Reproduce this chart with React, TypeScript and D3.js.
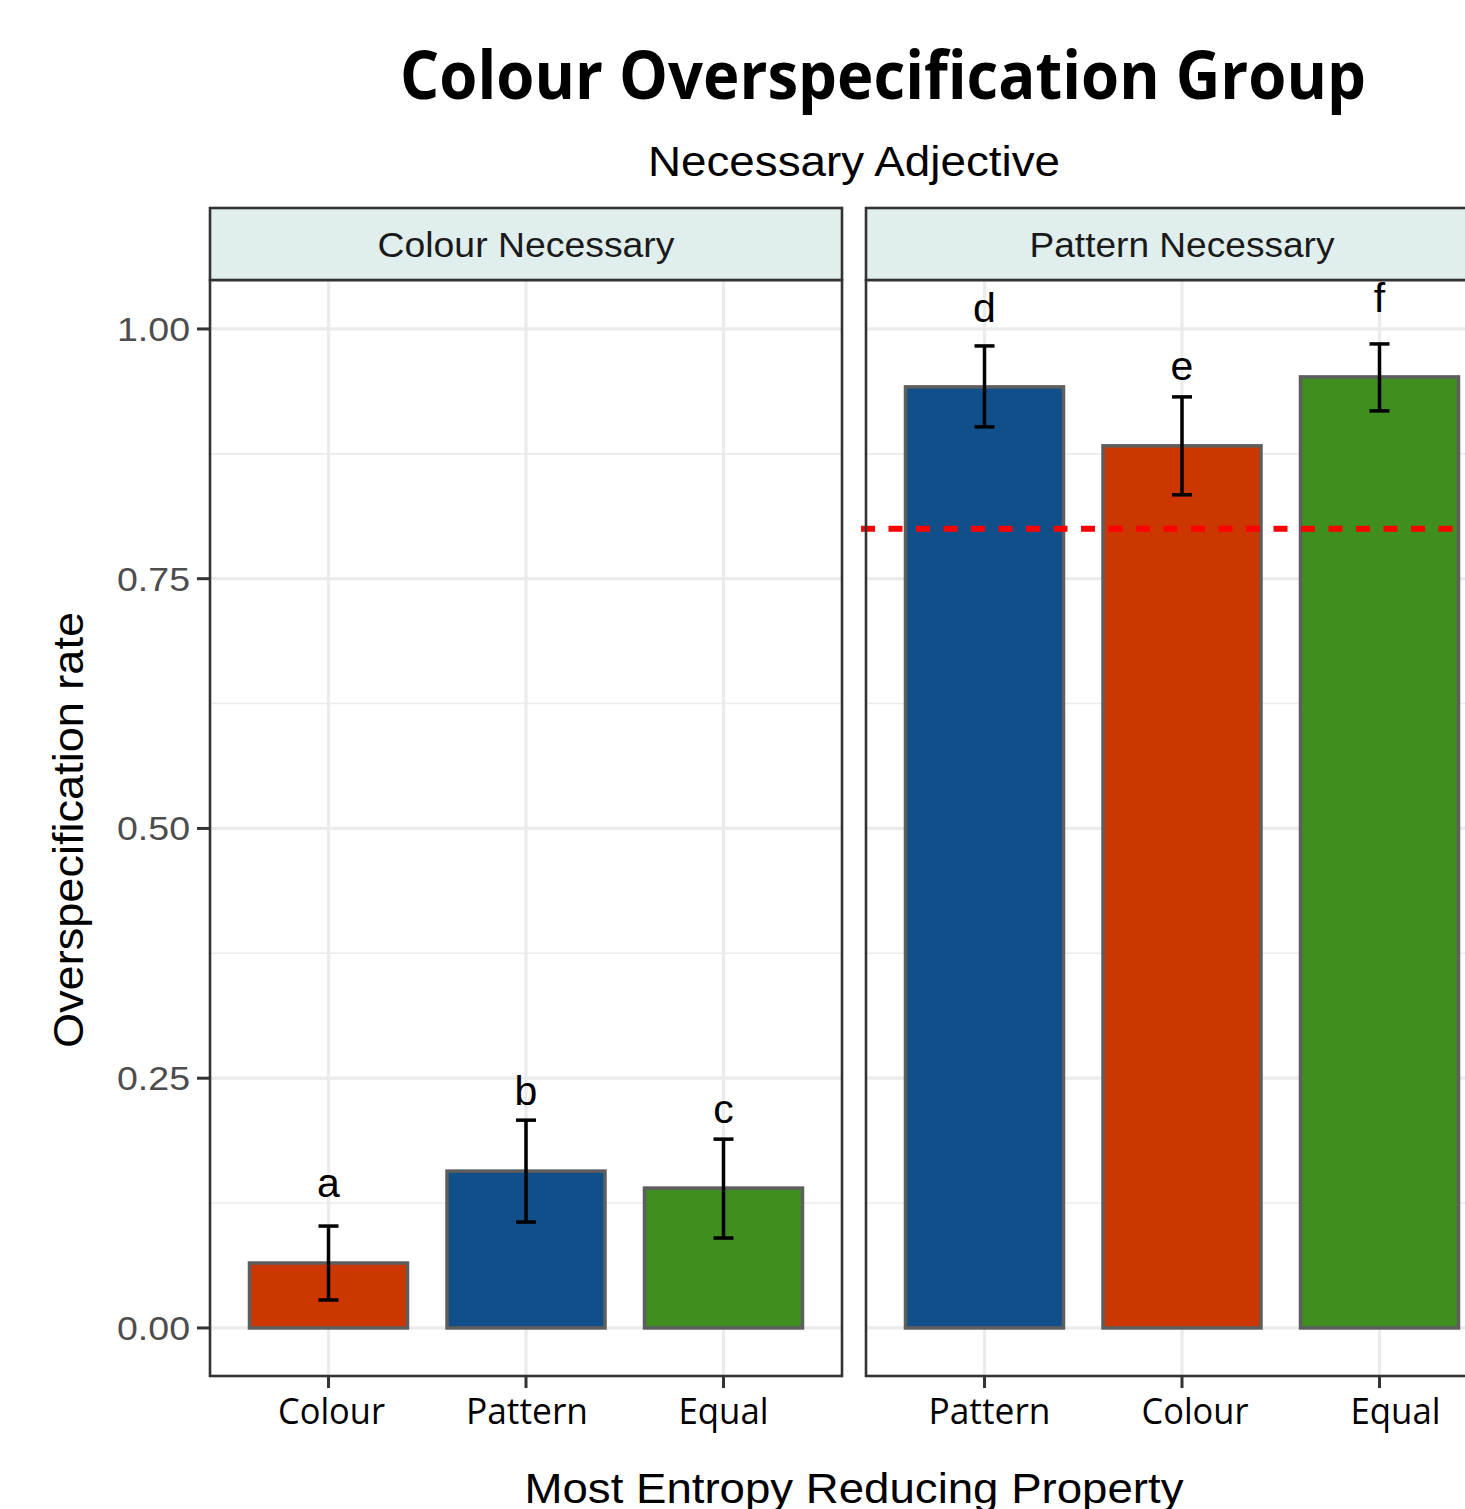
import React from "react";
import * as d3 from "d3";

const facets = ["Colour Necessary", "Pattern Necessary"];
const leftCategories = ["Colour", "Pattern", "Equal"];
const leftValues = [0.065, 0.157, 0.14];
const leftLower = [0.028, 0.106, 0.09];
const leftUpper = [0.102, 0.208, 0.189];
const leftLetters = ["a", "b", "c"];
const leftLetterY = [0.131, 0.223, 0.205];
const leftColors = ["#CC3700", "#114F8A", "#3F8E1F"];

const rightCategories = ["Pattern", "Colour", "Equal"];
const rightValues = [0.942, 0.883, 0.952];
const rightLower = [0.902, 0.834, 0.918];
const rightUpper = [0.983, 0.932, 0.985];
const rightLetters = ["d", "e", "f"];
const rightLetterY = [1.007, 0.949, 1.017];
const rightColors = ["#114F8A", "#CC3700", "#3F8E1F"];

const refLine = [0.8];
const yTicks = [0, 0.25, 0.5, 0.75, 1.0];
const yMinor = [0.125, 0.375, 0.625, 0.875];

// style: small horizontal nudges of x tick labels as rendered in reference
const labelNudge = [[3, 1, 0], [5, 13, 16]];
const labelWidth: Record<string, number> = { Pattern: 122, Colour: 107, Equal: 90 };

const W = 1465, H = 1509;
const panelTop = 280, panelBottom = 1376;
const stripTop = 208;
const panelW = 632;
const panelX = [210, 866];

const y = d3.scaleLinear().domain([-0.0481, 1.049]).range([panelBottom, panelTop]);

function Panel({ idx, cats, vals, lo, hi, letters, letterY, colors, withRef }: any) {
  const x0 = panelX[idx];
  // ggplot discrete axis: categories at 1..n, expanded by 0.6 each side
  const xs = d3.scaleLinear().domain([0.4, cats.length + 0.6]).range([x0, x0 + panelW]);
  const centre = (c: string) => xs(cats.indexOf(c) + 1);
  const bw = xs(1.8) - xs(1);
  const clipId = `clip${idx}`;
  return (
    <g>
      <defs>
        <clipPath id={clipId}>
          <rect x={x0} y={panelTop} width={panelW} height={panelBottom - panelTop} />
        </clipPath>
      </defs>
      <rect x={x0} y={panelTop} width={panelW} height={panelBottom - panelTop} fill="#fff" />
      <g clipPath={`url(#${clipId})`}>
        {yMinor.map((t) => (
          <line key={"m" + t} x1={x0} x2={x0 + panelW} y1={y(t)} y2={y(t)} stroke="#EBEBEB" strokeWidth={1.6} />
        ))}
        {yTicks.map((t) => (
          <line key={"M" + t} x1={x0} x2={x0 + panelW} y1={y(t)} y2={y(t)} stroke="#EBEBEB" strokeWidth={3.2} />
        ))}
        {cats.map((c: string) => (
          <line key={"v" + c} x1={centre(c)} x2={centre(c)} y1={panelTop} y2={panelBottom} stroke="#EBEBEB" strokeWidth={3.2} />
        ))}
        {cats.map((c: string, i: number) => (
          <rect key={"b" + c} x={centre(c) - bw / 2} y={y(vals[i])} width={bw} height={y(0) - y(vals[i])}
            fill={colors[i]} stroke="#5E5E5E" strokeWidth={3.5} />
        ))}
        {cats.map((c: string, i: number) => (
          <g key={"e" + c} stroke="#000" strokeWidth={3.5}>
            <line x1={centre(c)} x2={centre(c)} y1={y(lo[i])} y2={y(hi[i])} />
            <line x1={centre(c) - 10} x2={centre(c) + 10} y1={y(lo[i])} y2={y(lo[i])} />
            <line x1={centre(c) - 10} x2={centre(c) + 10} y1={y(hi[i])} y2={y(hi[i])} />
          </g>
        ))}
        {cats.map((c: string, i: number) => (
          <text key={"l" + c} x={centre(c)} y={y(letterY[i])} textAnchor="middle" fontFamily="Liberation Sans, Arial, sans-serif" fontSize={41} fill="#000">{letters[i]}</text>
        ))}
      </g>
      {withRef && refLine.map((r) => (
        <line key="ref" x1={x0 - 5} x2={x0 + panelW - 40} y1={y(r)} y2={y(r)} stroke="#FF0000" strokeWidth={6} strokeDasharray="14 13.5" />
      ))}
      <rect x={x0} y={panelTop} width={panelW} height={panelBottom - panelTop} fill="none" stroke="#333" strokeWidth={2.6} />
      {/* strip */}
      <rect x={x0} y={stripTop} width={panelW} height={panelTop - stripTop} fill="#E0EEED" stroke="#333" strokeWidth={2.6} />
      <text x={x0 + panelW / 2} y={stripTop + 49} textAnchor="middle" fontFamily="Liberation Sans, Arial, sans-serif" fontSize={35} fill="#1A1A1A" textLength={facets[idx] === "Colour Necessary" ? 297 : 305} lengthAdjust="spacingAndGlyphs">{facets[idx]}</text>
      {/* x ticks */}
      {cats.map((c: string, i: number) => (
        <g key={"t" + c}>
          <line x1={centre(c)} x2={centre(c)} y1={panelBottom} y2={panelBottom + 12} stroke="#333" strokeWidth={3} />
          <text x={centre(c) + labelNudge[idx][i]} y={1424} textAnchor="middle" fontFamily="Open Sans, sans-serif" fontSize={36} fill="#000" textLength={labelWidth[c]} lengthAdjust="spacingAndGlyphs">{c}</text>
        </g>
      ))}
    </g>
  );
}

export default function App() {
  return (
    <svg width={W} height={H} style={{ position: "absolute", left: 0, top: 0, background: "#fff" }}>
      <rect width={W} height={H} fill="#fff" />
      <text x={883} y={99} textAnchor="middle" fontFamily="Open Sans, sans-serif" fontWeight="bold" fontSize={66} fill="#000" textLength={966} lengthAdjust="spacingAndGlyphs">Colour Overspecification Group</text>
      <text x={854} y={176} textAnchor="middle" fontFamily="Liberation Sans, Arial, sans-serif" fontSize={43} fill="#000" textLength={412} lengthAdjust="spacingAndGlyphs">Necessary Adjective</text>
      {/* y axis */}
      {yTicks.map((t) => (
        <g key={"yt" + t}>
          <line x1={197} x2={210} y1={y(t)} y2={y(t)} stroke="#333" strokeWidth={3} />
          <text x={190} y={y(t) + 12} textAnchor="end" fontFamily="Liberation Sans, Arial, sans-serif" fontSize={33} fill="#4D4D4D" textLength={73} lengthAdjust="spacingAndGlyphs">{t.toFixed(2)}</text>
        </g>
      ))}
      <text transform={`translate(83,830) rotate(-90)`} textAnchor="middle" fontFamily="Liberation Sans, Arial, sans-serif" fontSize={42} fill="#000" textLength={436} lengthAdjust="spacingAndGlyphs">Overspecification rate</text>
      <Panel idx={0} cats={leftCategories} vals={leftValues} lo={leftLower} hi={leftUpper} letters={leftLetters} letterY={leftLetterY} colors={leftColors} withRef={false} />
      <Panel idx={1} cats={rightCategories} vals={rightValues} lo={rightLower} hi={rightUpper} letters={rightLetters} letterY={rightLetterY} colors={rightColors} withRef={true} />
      <text x={854} y={1503} textAnchor="middle" fontFamily="Liberation Sans, Arial, sans-serif" fontSize={43} fill="#000" textLength={659} lengthAdjust="spacingAndGlyphs">Most Entropy Reducing Property</text>
    </svg>
  );
}
